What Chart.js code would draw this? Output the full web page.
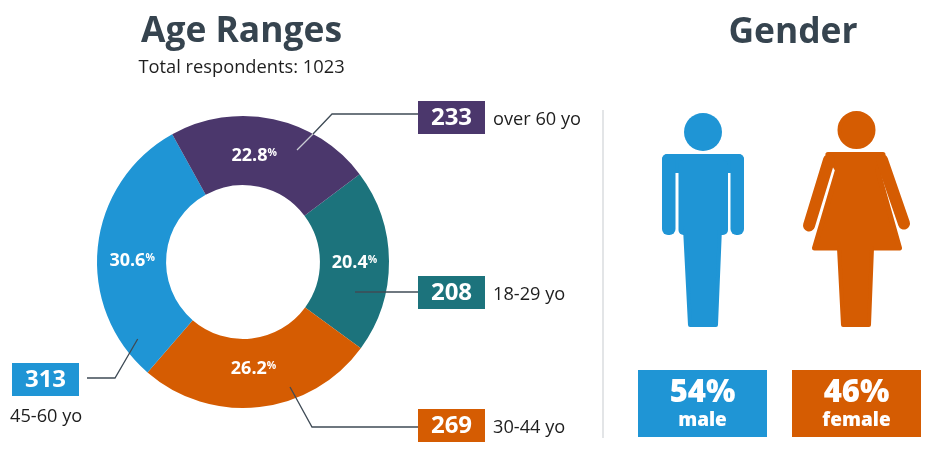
<!DOCTYPE html>
<html>
<head>
<meta charset="utf-8">
<title>Age Ranges and Gender</title>
<script src="https://cdn.jsdelivr.net/npm/chart.js@4"></script>
<style>
  html, body { margin: 0; padding: 0; background: #fff; }
  body { width: 944px; height: 461px; position: relative; overflow: hidden; font-family: "Open Sans", sans-serif; color: #1e1e1e; }
  canvas, svg { position: absolute; left: 0; top: 0; }
  .t { position: absolute; white-space: nowrap; line-height: 1; }
  .title { font-size: 35.4px; font-weight: 700; color: #36444f; transform: translate(-50%, -50%); }
  .sub { font-size: 18.3px; transform: translate(-50%, -50%); }
  .side { font-size: 18.2px; transform: translateY(-50%); }
  .count { position: absolute; width: 67px; height: 33px; color: #fff; font-size: 24px; font-weight: 700; line-height: 30px; text-align: center; }
  .pct { font-size: 18px; font-weight: 700; color: #fff; transform: translate(-50%, -50%); }
  .pct sup { font-size: 10.5px; vertical-align: baseline; position: relative; top: -5px; }
  .gbox { position: absolute; top: 370px; width: 129px; height: 67px; color: #fff; font-weight: 700; text-align: center; }
  .gbox b { position: absolute; left: 0; right: 0; line-height: 1; }
  .gbox .big { top: 5px; font-size: 31px; }
  .gbox .small { top: 40px; font-size: 19px; }
</style>
</head>
<body>
<canvas id="donut" width="944" height="461"></canvas>
<svg id="art" width="944" height="461" viewBox="0 0 944 461">
  <line x1="603" y1="110" x2="603" y2="438" stroke="#e3e5e7" stroke-width="2"/>
  <g fill="none" stroke="#3f4b56" stroke-width="1.3">
    <polyline points="313,134 332,114 418,114"/>
    <polyline points="297,150 313,134" stroke="#c9cdd4"/>
    <polyline points="355,292 418,292"/>
    <polyline points="290,387 312,427 418,427"/>
    <polyline points="137.7,339 115,378 87,378"/>
  </g>
  <!-- man -->
  <g fill="#1f95d5">
    <circle cx="703" cy="132" r="19"/>
    <rect x="662" y="154" width="82" height="19" rx="5"/>
    <rect x="662" y="154" width="13.5" height="81" rx="6"/>
    <rect x="730.5" y="154" width="13.5" height="81" rx="6"/>
    <rect x="678.5" y="160" width="49.5" height="75" rx="5"/>
    <polygon points="685,228 720,228 716,325 690,325" stroke="#1f95d5" stroke-width="4" stroke-linejoin="round"/>
  </g>
  <!-- woman: dress and legs, arms as thick round-capped lines -->
  <g fill="#d55c02" stroke="#d55c02" stroke-linejoin="round">
    <circle cx="856.5" cy="130" r="17" stroke-width="4"/>
    <polygon stroke-width="5" points="828,154.5 883,154.5 877.5,170 899.5,248 814.5,248 837.5,170"/>
    <polygon stroke-width="4" points="839,248 872,248 869,325 843,325"/>
    <line x1="829" y1="160" x2="809" y2="225.5" stroke-width="12" stroke-linecap="round"/>
    <line x1="882" y1="160" x2="904" y2="223.5" stroke-width="12" stroke-linecap="round"/>
  </g>
</svg>

<div class="t title" style="left:241.5px;top:29px">Age Ranges</div>
<div class="t sub" style="left:241.5px;top:66px">Total respondents: 1023</div>
<div class="t title" style="left:793px;top:30px">Gender</div>
<div id="overlay"></div>

<script>
const categories = ['18-29 yo', '30-44 yo', '45-60 yo', 'over 60 yo'];
const counts = [208, 269, 313, 233];
const percentLabels = ['20.4', '26.2', '30.6', '22.8'];
const sliceColors = ['#1c737c', '#d55c02', '#1f95d5', '#4b376c'];
const genders = ['male', 'female'];
const genderShare = [54, 46];
const genderColors = ['#1f95d5', '#d55c02'];

// where the count boxes and their captions sit, same order as categories
const boxSpots = [[418, 276], [418, 409], [12, 363], [418, 101]];
const captionSpots = [[493, 293], [493, 426], [10, 415], [493, 118]];
// the % labels are not quite on the slice centre in the original
const labelNudge = [[0, 0], [-2, -6], [0, 9], [-12, 1]];

const overlay = document.getElementById('overlay');

function addEl(cls, left, top, html, bg) {
  const d = document.createElement('div');
  d.className = cls;
  d.style.left = left + 'px';
  d.style.top = top + 'px';
  if (bg) d.style.background = bg;
  d.innerHTML = html;
  overlay.appendChild(d);
  return d;
}

categories.forEach((c, i) => {
  addEl('count', boxSpots[i][0], boxSpots[i][1], counts[i], sliceColors[i]);
  addEl('t side', captionSpots[i][0], captionSpots[i][1], c);
});

genders.forEach((g, i) => {
  addEl('gbox', i ? 792 : 638, 370,
    `<b class="big">${genderShare[i]}%</b><b class="small">${g}</b>`, genderColors[i]);
});

const percentPlugin = {
  id: 'percentLabels',
  afterDraw(chart) {
    if (chart.$labelled) return;
    chart.$labelled = true;
    chart.getDatasetMeta(0).data.forEach((arc, i) => {
      const p = arc.getCenterPoint();
      addEl('t pct', p.x + labelNudge[i][0], p.y + labelNudge[i][1], `${percentLabels[i]}<sup>%</sup>`);
    });
  }
};

new Chart(document.getElementById('donut'), {
  type: 'doughnut',
  data: {
    labels: categories,
    datasets: [{ data: counts, backgroundColor: sliceColors, borderWidth: 0 }]
  },
  options: {
    responsive: false,
    animation: false,
    rotation: 53,
    cutout: '52.7%',
    layout: { padding: { left: 97, right: 555, top: 116, bottom: 53 } },
    plugins: { legend: { display: false }, tooltip: { enabled: false } }
  },
  plugins: [percentPlugin]
});
</script>
</body>
</html>
